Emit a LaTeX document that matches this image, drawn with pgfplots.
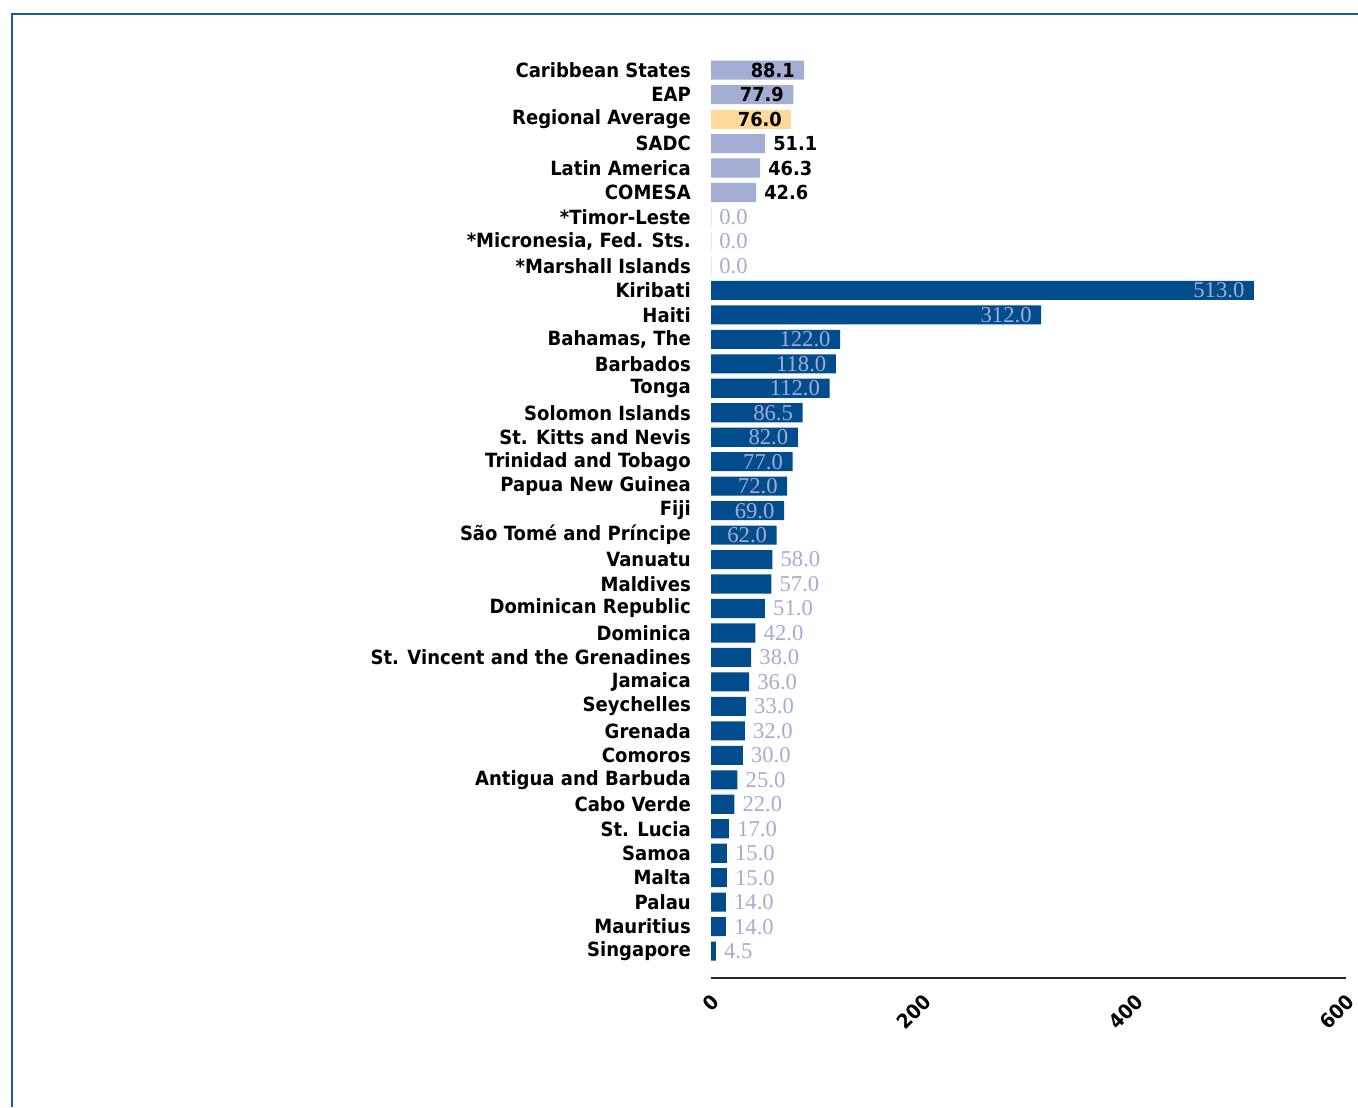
\documentclass[border=0pt]{standalone}
\usepackage{fontspec}
\setmainfont{DejaVu Sans}[FakeStretch=0.92]
\newfontfamily\valfont{Liberation Serif}
\usepackage{pgfplots}
\pgfplotsset{compat=1.18}
\definecolor{darkbar}{RGB}{0,76,140}
\definecolor{lavbar}{RGB}{163,173,212}
\definecolor{peach}{RGB}{255,217,153}
\definecolor{lavtext}{RGB}{164,172,210}
\definecolor{frameblue}{RGB}{30,90,160}
\tikzset{
  lblb/.style={font=\bfseries\fontsize{14.5}{16}\selectfont, text=black},
  lbls/.style={font=\valfont\fontsize{17}{18}\selectfont, text=lavtext},
}
\pgfplotsset{
  inlab/.style={nodes near coords style={#1, anchor=east, inner sep=0pt, xshift=-7pt}},
  outlab/.style={nodes near coords style={#1, anchor=west, inner sep=0pt, xshift=6pt}},
}
\begin{document}
\begin{tikzpicture}
\path[use as bounding box] (0,0) rectangle (1018.5pt,-830.25pt);
\draw[frameblue, line width=1.5pt] (9pt,-830.25pt) -- (9pt,-10.5pt) -- (1018.5pt,-10.5pt);
\begin{axis}[
  at={(533.25pt,-733.5pt)}, anchor=south west,
  scale only axis, width=476.25pt, height=691.9pt,
  xmin=0, xmax=600, ymin=-1.1, ymax=36.6,
  xbar, bar width=0.78,
  point meta=x,
  clip=false,
  axis x line*=bottom, axis y line*=left,
  y axis line style={draw=none},
  x axis line style={-, line width=1.2pt, black!85},
  major tick length=0pt,
  xtick={0,200,400,600},
  xticklabel style={font=\bfseries\fontsize{15}{16}\selectfont, /pgf/number format/assume math mode=true, anchor=east, xshift=6pt, yshift=-13pt, rotate=45},
  ytick={0,...,36},
  yticklabels={Singapore, Mauritius, Palau, Malta, Samoa, St. Lucia, Cabo Verde, Antigua and Barbuda, Comoros, Grenada, Seychelles, Jamaica, St. Vincent and the Grenadines, Dominica, Dominican Republic, Maldives, Vanuatu, São Tomé and Príncipe, Fiji, Papua New Guinea, Trinidad and Tobago, St. Kitts and Nevis, Solomon Islands, Tonga, Barbados, {Bahamas, The}, Haiti, Kiribati, *Marshall Islands, {*Micronesia, Fed. Sts.}, *Timor-Leste, COMESA, Latin America, SADC, Regional Average, EAP, Caribbean States},
  yticklabel style={font=\bfseries\fontsize{14.7}{16}\selectfont, inner sep=0pt, xshift=-15pt},
  nodes near coords={\pgfmathprintnumber[fixed,fixed zerofill,precision=1,assume math mode=true]{\pgfplotspointmeta}},
]
% regional, labels inside
\addplot[fill=lavbar, draw=none, bar shift=0pt, inlab=lblb] coordinates {(88.1,36) (77.9,35)};
\addplot[fill=peach, draw=none, bar shift=0pt, inlab=lblb] coordinates {(76.0,34)};
% regional, labels outside
\addplot[fill=lavbar, draw=none, bar shift=0pt, outlab=lblb] coordinates {(51.1,33) (46.3,32) (42.6,31)};
% zero values
\addplot[fill=darkbar, draw=none, bar shift=0pt, outlab=lbls] coordinates {(0,30) (0,29) (0,28)};
% countries, labels inside
\addplot[fill=darkbar, draw=none, bar shift=0pt, inlab=lbls] coordinates {
(513,27) (312,26) (122,25) (118,24) (112,23) (86.5,22) (82,21) (77,20) (72,19) (69,18) (62,17)};
% countries, labels outside
\addplot[fill=darkbar, draw=none, bar shift=0pt, outlab=lbls] coordinates {
(58,16) (57,15) (51,14) (42,13) (38,12) (36,11) (33,10) (32,9) (30,8) (25,7) (22,6) (17,5) (15,4) (15,3) (14,2) (14,1) (4.5,0)};
\end{axis}
\end{tikzpicture}
\end{document}
